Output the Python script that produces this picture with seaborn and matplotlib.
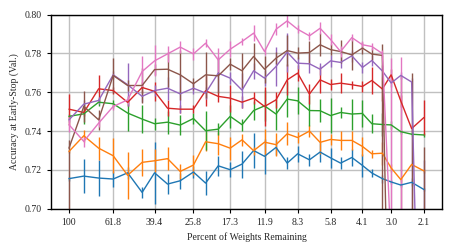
import numpy as np
import pandas as pd
import seaborn as sns
import matplotlib
matplotlib.use("Agg")
import matplotlib.pyplot as plt
from matplotlib.ticker import FixedLocator, FixedFormatter, NullLocator

# percent of weights remaining at each pruning round
pct = [100, 85.1, 72.4, 61.8, 52.8, 45.1, 39.4, 34.2, 29.8, 25.8, 22.6,
       19.7, 17.3, 15.2, 13.4, 11.9, 10.5, 9.3, 8.3, 7.3, 6.5,
       5.8, 5.2, 4.6, 4.1, 3.7, 3.3, 3.0, 2.7, 2.4, 2.1]
tick_vals = [100, 61.8, 39.4, 25.8, 17.3, 11.9, 8.3, 5.8, 4.1, 3.0, 2.1]
tick_labels = ["100", "61.8", "39.4", "25.8", "17.3", "11.9", "8.3", "5.8", "4.1", "3.0", "2.1"]

blue = [0.7155, 0.7168, 0.7158, 0.7153, 0.7185, 0.7084, 0.7185, 0.7127, 0.7144, 0.7189, 0.7132,
        0.7221, 0.7201, 0.7230, 0.7300, 0.7270, 0.7316, 0.7235, 0.7283, 0.7252, 0.7292,
        0.7262, 0.7235, 0.7264, 0.7223, 0.7184, 0.7155, 0.7138, 0.7122, 0.7136, 0.7099]
blue_err = [0.001, 0.0086, 0.0095, 0.004, 0.003, 0.003, 0.016, 0.005, 0.004, 0.003, 0.006,
            0.005, 0.004, 0.007, 0.009, 0.009, 0.004, 0.003, 0.004, 0.003, 0.005,
            0.005, 0.003, 0.0045, 0.006, 0.002, 0.002, 0.001, 0.001, 0.002, 0.001]

orange = [0.7295, 0.7376, 0.7312, 0.7273, 0.7172, 0.7239, 0.7247, 0.7258, 0.7192, 0.7225, 0.7345,
          0.7335, 0.7312, 0.7355, 0.7299, 0.7343, 0.7330, 0.7386, 0.7367, 0.7400, 0.7342,
          0.7357, 0.7352, 0.7352, 0.7321, 0.7283, 0.7286, 0.7210, 0.7150, 0.7228, 0.7195]
orange_err = [0.001, 0.003, 0.006, 0.009, 0.012, 0.007, 0.006, 0.006, 0.004, 0.005, 0.005,
              0.006, 0.006, 0.003, 0.002, 0.007, 0.006, 0.006, 0.003, 0.003, 0.006,
              0.003, 0.005, 0.005, 0.005, 0.002, 0.006, 0.002, 0.001, 0.001, 0.001]

green = [0.7476, 0.7489, 0.7549, 0.7541, 0.7493, 0.7462, 0.7438, 0.7446, 0.7431, 0.7465, 0.7402,
         0.7410, 0.7476, 0.7433, 0.7506, 0.7530, 0.7488, 0.7565, 0.7556, 0.7506, 0.7505,
         0.7480, 0.7496, 0.7488, 0.7491, 0.7438, 0.7434, 0.7432, 0.7397, 0.7384, 0.7380]
green_err = [0.001, 0.005, 0.002, 0.002, 0.009, 0.007, 0.003, 0.006, 0.005, 0.003, 0.010,
             0.003, 0.006, 0.003, 0.005, 0.008, 0.008, 0.009, 0.007, 0.008, 0.006,
             0.009, 0.003, 0.008, 0.007, 0.005, 0.006, 0.002, 0.001, 0.001, 0.001]

red = [0.7513, 0.7496, 0.7618, 0.7609, 0.7548, 0.7625, 0.7605, 0.7518, 0.7513, 0.7513, 0.7608,
       0.7579, 0.7570, 0.7549, 0.7570, 0.7527, 0.7561, 0.7664, 0.7699, 0.7591, 0.7664,
       0.7640, 0.7647, 0.7639, 0.7630, 0.7661, 0.7617, 0.7690, 0.7555, 0.7413, 0.7470]
red_err = [0.008, 0.002, 0.007, 0.002, 0.002, 0.003, 0.005, 0.004, 0.002, 0.002, 0.008,
           0.003, 0.007, 0.003, 0.003, 0.010, 0.004, 0.008, 0.004, 0.005, 0.007,
           0.003, 0.005, 0.002, 0.003, 0.007, 0.006, 0.003, 0.003, 0.002, 0.009]

purple = [0.7458, 0.7539, 0.7558, 0.7690, 0.7639, 0.7579, 0.7609, 0.7621, 0.7592, 0.7621, 0.7596,
          0.7699, 0.7673, 0.7611, 0.7711, 0.7673, 0.7733, 0.7807, 0.7750, 0.7747, 0.7719,
          0.7762, 0.7754, 0.7788, 0.7728, 0.7764, 0.7710, 0.7648, 0.7687, 0.7653, 0.5200]
purple_hi = [0.001, 0.002, 0.002, 0.002, 0.011, 0.003, 0.003, 0.006, 0.010, 0.003, 0.003,
             0.009, 0.003, 0.009, 0.004, 0.004, 0.010, 0.010, 0.003, 0.005, 0.003,
             0.003, 0.003, 0.003, 0.003, 0.003, 0.003, 0.002, 0.002, 0.002, 0.205]
purple_lo = [0.001, 0.002, 0.002, 0.002, 0.011, 0.003, 0.003, 0.006, 0.010, 0.003, 0.003,
             0.009, 0.003, 0.009, 0.004, 0.004, 0.010, 0.010, 0.003, 0.005, 0.003,
             0.003, 0.003, 0.003, 0.003, 0.003, 0.003, 0.002, 0.002, 0.200, 0.100]

brown = [0.7312, 0.7527, 0.7458, 0.7687, 0.7635, 0.7635, 0.7717, 0.7719, 0.7690, 0.7644, 0.7690,
         0.7685, 0.7745, 0.7711, 0.7785, 0.7719, 0.7776, 0.7815, 0.7802, 0.7805, 0.7845,
         0.7820, 0.7810, 0.7793, 0.7828, 0.7797, 0.7790, 0.5700, 0.5500, 0.5500, 0.5500]
brown_hi = [0.004, 0.008, 0.005, 0.009, 0.003, 0.009, 0.003, 0.009, 0.013, 0.003, 0.012,
            0.009, 0.003, 0.009, 0.007, 0.007, 0.003, 0.008, 0.003, 0.006, 0.006,
            0.003, 0.006, 0.008, 0.003, 0.003, 0.006, 0.010, 0.219, 0.220, 0.182]
brown_lo = [0.040, 0.008, 0.005, 0.009, 0.003, 0.009, 0.003, 0.009, 0.013, 0.003, 0.012,
            0.009, 0.003, 0.009, 0.007, 0.007, 0.003, 0.008, 0.003, 0.006, 0.006,
            0.003, 0.006, 0.008, 0.003, 0.003, 0.300, 0.050, 0.050, 0.050, 0.050]

pink = [0.7433, 0.7347, 0.7441, 0.7527, 0.7561, 0.7707, 0.7762, 0.7798, 0.7833, 0.7798, 0.7853,
        0.7767, 0.7822, 0.7862, 0.7905, 0.7810, 0.7925, 0.7968, 0.7925, 0.7891, 0.7930,
        0.7872, 0.7810, 0.7882, 0.7845, 0.7836, 0.7800, 0.6800, 0.5800, 0.5000, 0.5000]
pink_hi = [0.004, 0.003, 0.002, 0.002, 0.002, 0.008, 0.008, 0.004, 0.003, 0.003, 0.002,
           0.006, 0.004, 0.002, 0.004, 0.002, 0.003, 0.003, 0.002, 0.002, 0.003,
           0.003, 0.003, 0.002, 0.002, 0.002, 0.002, 0.0975, 0.198, 0.010, 0.010]
pink_lo = [0.004, 0.003, 0.002, 0.002, 0.002, 0.008, 0.008, 0.004, 0.003, 0.003, 0.002,
           0.006, 0.004, 0.002, 0.004, 0.002, 0.003, 0.003, 0.002, 0.002, 0.003,
           0.003, 0.003, 0.002, 0.002, 0.002, 0.002, 0.050, 0.050, 0.010, 0.010]

series = [
    ("blue", blue, blue_err, blue_err),
    ("orange", orange, orange_err, orange_err),
    ("green", green, green_err, green_err),
    ("red", red, red_err, red_err),
    ("purple", purple, purple_lo, purple_hi),
    ("brown", brown, brown_lo, brown_hi),
    ("pink", pink, pink_lo, pink_hi),
]

sns.set_style("ticks")
plt.rcParams["font.family"] = ["Liberation Serif", "DejaVu Serif"]
plt.rcParams["font.size"] = 7

colors = sns.color_palette("tab10", 7)

rows = []
for name, vals, lo, hi in series:
    for p, v in zip(pct, vals):
        rows.append({"pct": p, "acc": v, "run": name})
df = pd.DataFrame(rows)

fig, ax = plt.subplots(figsize=(4.57, 2.52), dpi=100)
fig.subplots_adjust(left=0.1116, right=0.967, top=0.9417, bottom=0.1718)

for (name, vals, lo, hi), c in zip(series, colors):
    ax.errorbar(pct, vals, yerr=[lo, hi], fmt="none", ecolor=c, elinewidth=1.0, capsize=0)

sns.lineplot(data=df, x="pct", y="acc", hue="run", palette=colors, legend=False,
             linewidth=1.0, ax=ax, sort=False)

ax.set_xscale("log")
ax.set_xlim(121.6, 1.726)
ax.set_ylim(0.70, 0.80)
ax.xaxis.set_major_locator(FixedLocator(tick_vals))
ax.xaxis.set_major_formatter(FixedFormatter(tick_labels))
ax.xaxis.set_minor_locator(NullLocator())
ax.set_yticks([0.70, 0.72, 0.74, 0.76, 0.78, 0.80])
ax.set_yticklabels(["0.70", "0.72", "0.74", "0.76", "0.78", "0.80"])

ax.grid(True, color="#c0c0c0", linewidth=1.0)
ax.set_axisbelow(True)
for s in ax.spines.values():
    s.set_color("black")
    s.set_linewidth(1.0)
ax.tick_params(axis="both", length=3, width=0.8, labelsize=7, color="black")

ax.set_xlabel("Percent of Weights Remaining", fontsize=7)
ax.set_ylabel("Accuracy at Early-Stop (Val.)", fontsize=7)

fig.savefig("out.png", dpi=100)
